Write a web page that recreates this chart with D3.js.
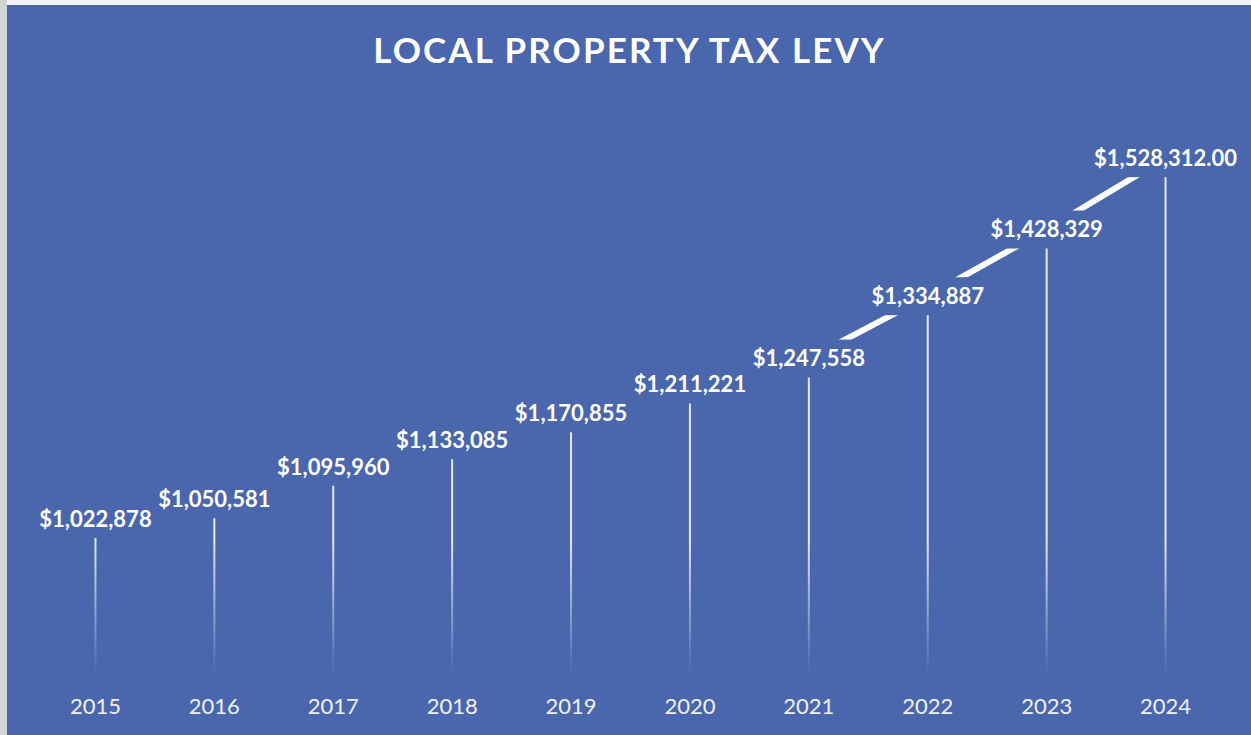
<!DOCTYPE html>
<html>
<head>
<meta charset="utf-8">
<script src="https://cdn.jsdelivr.net/npm/d3@7"></script>
<style>
  html, body { margin: 0; padding: 0; background: #ffffff; }
  svg { display: block; }
</style>
</head>
<body>
<svg id="chart" width="1251" height="735"></svg>
<script>
// Levy by year
const years = ["2015", "2016", "2017", "2018", "2019", "2020", "2021", "2022", "2023", "2024"];
const levy = [1022878, 1050581, 1095960, 1133085, 1170855, 1211221, 1247558, 1334887, 1428329, 1528312.00];
const valueLabels = ["$1,022,878", "$1,050,581", "$1,095,960", "$1,133,085", "$1,170,855",
                     "$1,211,221", "$1,247,558", "$1,334,887", "$1,428,329", "$1,528,312.00"];
const titleText = "LOCAL PROPERTY TAX LEVY";
const yDomain = [800000, 1600000];

const W = 1251, H = 735;
const bg = "#4a66ad";
const svg = d3.select("#chart");

// frame: light border on the top and left edges, blue chart area
svg.append("rect").attr("x", 0).attr("y", 0).attr("width", W).attr("height", H).attr("fill", "#f2f2f2");
svg.append("rect").attr("x", 0).attr("y", 0).attr("width", 7).attr("height", H).attr("fill", "#d4d4d4");
svg.append("rect").attr("x", 7).attr("y", 5).attr("width", W - 7).attr("height", H - 5).attr("fill", bg);

const plot = { left: 36, right: 1225, top: 107, bottom: 678 };

const x = d3.scaleBand().domain(years).range([plot.left, plot.right]);
const y = d3.scaleLinear().domain(yDomain).range([plot.bottom, plot.top]);
const cx = d => x(d) + x.bandwidth() / 2;

// fading gradient for the drop lines
const defs = svg.append("defs");
const grad = defs.append("linearGradient")
  .attr("id", "dropFade")
  .attr("gradientUnits", "userSpaceOnUse")
  .attr("x1", 0).attr("x2", 0)
  .attr("y1", 540).attr("y2", plot.bottom - 4);
grad.append("stop").attr("offset", 0).attr("stop-color", "#ffffff").attr("stop-opacity", 0.85);
grad.append("stop").attr("offset", 1).attr("stop-color", "#ffffff").attr("stop-opacity", 0);

const data = years.map((yr, i) => ({ year: yr, value: levy[i], label: valueLabels[i] }));

// drop lines from each point down to the axis
svg.append("g").selectAll("line")
  .data(data).join("line")
  .attr("x1", d => cx(d.year)).attr("x2", d => cx(d.year))
  .attr("y1", d => y(d.value)).attr("y2", plot.bottom - 4)
  .attr("stroke", "url(#dropFade)")
  .attr("stroke-width", 2);

// trend line through the points
const line = d3.line().x(d => cx(d.year)).y(d => y(d.value));
svg.append("path")
  .datum(data)
  .attr("d", line)
  .attr("fill", "none")
  .attr("stroke", "#ffffff")
  .attr("stroke-width", 6);

// data labels with filled boxes sitting on the points
const labelFont = "Lato, 'Open Sans', sans-serif";
const labels = svg.append("g");
const lg = labels.selectAll("g").data(data).join("g")
  .attr("transform", d => `translate(${cx(d.year)},${y(d.value)})`);
const boxes = lg.append("rect").attr("fill", bg);
const texts = lg.append("text")
  .attr("text-anchor", "middle")
  .attr("dy", 7.8)
  .attr("fill", "#ffffff")
  .attr("font-family", labelFont)
  .attr("font-weight", 700)
  .attr("font-size", 22)
  .text(d => d.label);
texts.each(function () {
  const w = this.getComputedTextLength();
  d3.select(this.previousSibling)
    .attr("x", -w / 2 - 7).attr("width", w + 14)
    .attr("y", -19).attr("height", 38);
});

// category axis labels
svg.append("g").selectAll("text")
  .data(years).join("text")
  .attr("x", d => cx(d))
  .attr("y", 714)
  .attr("text-anchor", "middle")
  .attr("fill", "#eef0f6")
  .attr("font-family", labelFont)
  .attr("font-size", 22)
  .text(d => d);

// title
svg.append("text")
  .attr("x", 629.5)
  .attr("y", 63)
  .attr("text-anchor", "middle")
  .attr("fill", "#ffffff")
  .attr("font-family", labelFont)
  .attr("font-weight", 700)
  .attr("font-size", 35)
  .attr("letter-spacing", 2.1)
  .text(titleText);
</script>
</body>
</html>
